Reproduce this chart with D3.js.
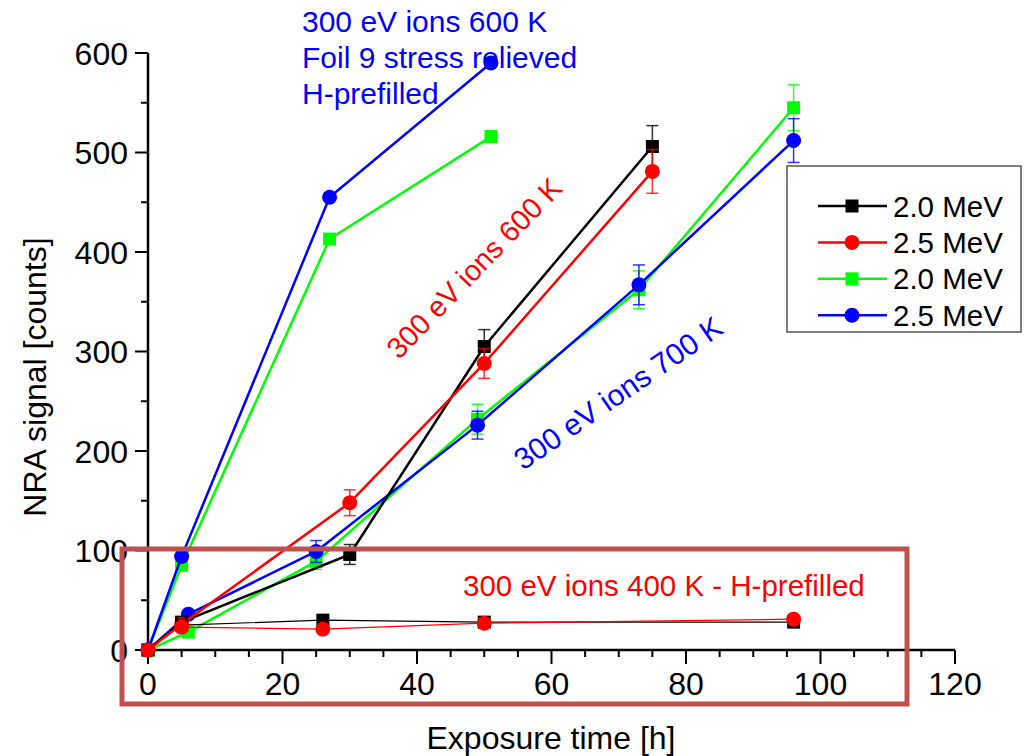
<!DOCTYPE html>
<html>
<head>
<meta charset="utf-8">
<script src="https://cdn.jsdelivr.net/npm/d3@7"></script>
<style>
  html, body { margin: 0; padding: 0; background: #fff; }
  svg { display: block; font-family: "Liberation Sans", Arial, sans-serif; }
</style>
</head>
<body>
<svg id="chart" width="1024" height="756"></svg>
<script>
// ---- data -------------------------------------------------------------
// 300 eV ions, 600 K (error bars in counts)
const hours600   = [0, 5, 30, 50, 75];
const black600   = [0, 28, 96, 305, 506];
const black600Err = [0, 0, 10, 17, 21];
const red600     = [0, 26, 148, 288, 481];
const red600Err  = [0, 0, 13, 15, 22];

// 300 eV ions, 700 K
const hours700   = [0, 6, 25, 49, 73, 96];
const green700   = [0, 18, 89, 232, 362, 545];
const green700Err = [0, 0, 8, 15, 19, 23];
const blue700    = [0, 36, 99, 226, 367, 512];
const blue700Err = [0, 0, 11, 14, 20, 22];

// 300 eV ions, 600 K, foil 9 stress relieved, H-prefilled
const hoursPref  = [0, 5, 27, 51];
const greenPref  = [0, 85, 413, 516];
const bluePref   = [0, 94, 455, 590];

// 300 eV ions, 400 K, H-prefilled
const hours400   = [5, 26, 50, 96];
const black400   = [25, 30, 28, 28];
const red400     = [23, 21, 27, 31];

const xTickValues = [0, 20, 40, 60, 80, 100, 120];
const yTickValues = [0, 100, 200, 300, 400, 500, 600];
const legendLabels = ["2.0 MeV", "2.5 MeV", "2.0 MeV", "2.5 MeV"];

const xTitle = "Exposure time [h]";
const yTitle = "NRA signal [counts]";

// ---- layout -----------------------------------------------------------
const COLORS = { black: "#000000", red: "#ff0000", green: "#00ff00", blue: "#0000ff" };
const svg = d3.select("#chart");

const x = d3.scaleLinear().domain([0, 120]).range([148, 955]);
const y = d3.scaleLinear().domain([0, 600]).range([650, 53]);

// axes
const axisG = svg.append("g");
const xMinor = d3.range(0, 121, 5).filter(v => v % 20 !== 0);
const yMinor = d3.range(0, 601, 50).filter(v => v % 100 !== 0);

axisG.selectAll(".xminor").data(xMinor).join("line")
  .attr("x1", d => x(d)).attr("x2", d => x(d))
  .attr("y1", 650).attr("y2", 657)
  .attr("stroke", "#000").attr("stroke-width", 2);
axisG.selectAll(".xmajor").data(xTickValues).join("line")
  .attr("x1", d => x(d)).attr("x2", d => x(d))
  .attr("y1", 650).attr("y2", 664)
  .attr("stroke", "#000").attr("stroke-width", 2);
axisG.selectAll(".yminor").data(yMinor).join("line")
  .attr("x1", 141).attr("x2", 148)
  .attr("y1", d => y(d)).attr("y2", d => y(d))
  .attr("stroke", "#000").attr("stroke-width", 2);
axisG.selectAll(".ymajor").data(yTickValues).join("line")
  .attr("x1", 135).attr("x2", 148)
  .attr("y1", d => y(d)).attr("y2", d => y(d))
  .attr("stroke", "#000").attr("stroke-width", 2);

axisG.append("line").attr("x1", x(0)).attr("x2", x(120)).attr("y1", y(0)).attr("y2", y(0))
  .attr("stroke", "#000").attr("stroke-width", 2.5);
axisG.append("line").attr("x1", x(0)).attr("x2", x(0)).attr("y1", y(0) + 1).attr("y2", y(600))
  .attr("stroke", "#000").attr("stroke-width", 2.5);

axisG.selectAll(".xlab").data(xTickValues).join("text")
  .attr("x", d => x(d)).attr("y", 695)
  .attr("text-anchor", "middle").attr("font-size", 32).attr("fill", "#000")
  .text(d => d);
axisG.selectAll(".ylab").data(yTickValues).join("text")
  .attr("x", 128).attr("y", d => y(d)).attr("dy", "0.36em")
  .attr("text-anchor", "end").attr("font-size", 32).attr("fill", "#000")
  .text(d => d);

svg.append("text").attr("x", 551).attr("y", 749)
  .attr("text-anchor", "middle").attr("font-size", 32).text(xTitle);
svg.append("text").attr("transform", "translate(46,377) rotate(-90)")
  .attr("text-anchor", "middle").attr("font-size", 32).text(yTitle);

// ---- series -----------------------------------------------------------
const line = d3.line().x(d => x(d[0])).y(d => y(d[1]));

function drawSeries(hours, values, errs, color, shape, width) {
  const pts = hours.map((h, i) => [h, values[i], errs ? errs[i] : 0]);
  const g = svg.append("g");
  g.append("path").datum(pts).attr("d", line)
    .attr("fill", "none").attr("stroke", color).attr("stroke-width", width)
    .attr("stroke-linejoin", "round");
  const eb = g.selectAll(".err").data(pts.filter(p => p[2] > 0)).join("g")
    .attr("stroke", color).attr("stroke-width", 1.5).attr("stroke-opacity", 0.8);
  eb.append("line").attr("x1", d => x(d[0])).attr("x2", d => x(d[0]))
    .attr("y1", d => y(d[1] - d[2])).attr("y2", d => y(d[1] + d[2]));
  eb.append("line").attr("x1", d => x(d[0]) - 6).attr("x2", d => x(d[0]) + 6)
    .attr("y1", d => y(d[1] + d[2])).attr("y2", d => y(d[1] + d[2]));
  eb.append("line").attr("x1", d => x(d[0]) - 6).attr("x2", d => x(d[0]) + 6)
    .attr("y1", d => y(d[1] - d[2])).attr("y2", d => y(d[1] - d[2]));
  drawMarkers(g, pts, color, shape);
}

function drawMarkers(g, pts, color, shape) {
  if (shape === "square") {
    g.selectAll(".m").data(pts).join("rect")
      .attr("x", d => x(d[0]) - 6.5).attr("y", d => y(d[1]) - 6.5)
      .attr("width", 13).attr("height", 13).attr("fill", color);
  } else {
    g.selectAll(".m").data(pts).join("circle")
      .attr("cx", d => x(d[0])).attr("cy", d => y(d[1]))
      .attr("r", 7.5).attr("fill", color);
  }
}

drawSeries(hoursPref, greenPref, null, COLORS.green, "square", 2.5);
drawSeries(hoursPref, bluePref, null, COLORS.blue, "circle", 2.5);
drawSeries(hours700, green700, green700Err, COLORS.green, "square", 2.5);
drawSeries(hours700, blue700, blue700Err, COLORS.blue, "circle", 2.5);
drawSeries(hours600, black600, black600Err, COLORS.black, "square", 2.5);
drawSeries(hours600, red600, red600Err, COLORS.red, "circle", 2.5);
drawSeries(hours400, black400, null, COLORS.black, "square", 1.2);
drawSeries(hours400, red400, null, COLORS.red, "circle", 1.2);

// ---- annotations -------------------------------------------------------
const noteBlue = svg.append("text").attr("font-size", 30).attr("fill", COLORS.blue);
["300 eV ions 600 K", "Foil 9 stress relieved", "H-prefilled"].forEach((t, i) => {
  noteBlue.append("tspan").attr("x", 302).attr("y", 32 + i * 36).text(t);
});

svg.append("text").attr("transform", "translate(474,268) rotate(-46)")
  .attr("text-anchor", "middle").attr("dy", "0.35em")
  .attr("font-size", 29).attr("fill", COLORS.red).text("300 eV ions 600 K");

svg.append("text").attr("transform", "translate(618,393) rotate(-34.5)")
  .attr("text-anchor", "middle").attr("dy", "0.35em")
  .attr("font-size", 30).attr("fill", COLORS.blue).text("300 eV ions 700 K");

svg.append("text").attr("x", 463).attr("y", 596)
  .attr("font-size", 29.5).attr("fill", COLORS.red).text("300 eV ions 400 K - H-prefilled");

// ---- legend ------------------------------------------------------------
const legend = svg.append("g");
legend.append("rect").attr("x", 787).attr("y", 166).attr("width", 234).attr("height", 166)
  .attr("fill", "#fff").attr("stroke", "#555").attr("stroke-width", 1.5);
const legendItems = [
  { color: COLORS.black, shape: "square" },
  { color: COLORS.red, shape: "circle" },
  { color: COLORS.green, shape: "square" },
  { color: COLORS.blue, shape: "circle" }
];
legendItems.forEach((it, i) => {
  const cy = 206 + i * 36.4;
  const g = legend.append("g");
  g.append("line").attr("x1", 818).attr("x2", 887).attr("y1", cy).attr("y2", cy)
    .attr("stroke", it.color).attr("stroke-width", 2.5);
  if (it.shape === "square") {
    g.append("rect").attr("x", 852 - 6.5).attr("y", cy - 6.5).attr("width", 13).attr("height", 13).attr("fill", it.color);
  } else {
    g.append("circle").attr("cx", 852).attr("cy", cy).attr("r", 7.5).attr("fill", it.color);
  }
  g.append("text").attr("x", 893).attr("y", cy).attr("dy", "0.36em")
    .attr("font-size", 29.5).attr("fill", "#000").text(legendLabels[i]);
});

// ---- highlight frame around the 400 K data --------------------------------
svg.append("rect").attr("x", 122).attr("y", 549).attr("width", 785).attr("height", 155)
  .attr("fill", "none").attr("stroke", "#c0504d").attr("stroke-width", 5);
</script>
</body>
</html>
